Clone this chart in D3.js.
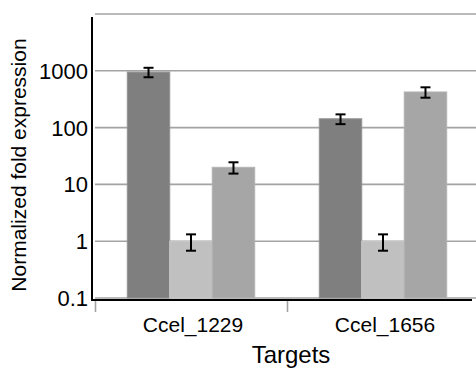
<!DOCTYPE html>
<meta charset="utf-8">
<script src="https://cdn.jsdelivr.net/npm/d3@7"></script>
<style type="text/css">
  body { margin: 0; background: #fff; }
  text { font-family: "Liberation Sans", Arial, Helvetica, sans-serif; fill: #000; }
  .grid line { stroke: #a3a3a3; stroke-width: 1.6; }
  .err { stroke: #000; stroke-width: 2; fill: none; }
</style>
<body>
<script>

// data
var categories = ["Ccel_1229", "Ccel_1656"];
var seriesNames = ["A", "B", "C"];
var seriesColors = ["#7f7f7f", "#c0c0c0", "#a6a6a6"];
var seriesStroke = ["#939393", "#cacaca", "#b3b3b3"];
var valuesA = [950, 143];
var valuesB = [1.0, 1.0];
var valuesC = [20, 424];
var errorsA = [180, 28];
var errorsB = [0.32, 0.32];
var errorsC = [4.5, 88];
var yTicks = [0.1, 1, 10, 100, 1000];
var yTickLabels = ["0.1", "1", "10", "100", "1000"];
var gridValues = [0.1, 1, 10, 100, 1000, 10000];

var width = 476, height = 369;

var allValues = [valuesA, valuesB, valuesC];
var allErrors = [errorsA, errorsB, errorsC];

var rows = [];
categories.forEach(function(c, ci) {
    seriesNames.forEach(function(s, si) {
        rows.push({cat: c, series: s, si: si, value: allValues[si][ci], err: allErrors[si][ci]});
    });
});

var svg = d3.select("body").append("svg")
    .attr("width", width)
    .attr("height", height);

// scales
var yScale = d3.scaleLog()
    .domain([0.1, 10000])
    .range([298, 14]);

var x0 = d3.scaleBand()
    .domain(categories)
    .range([95, 479])
    .padding(0);

var x1 = d3.scaleBand()
    .domain(seriesNames)
    .range([0, x0.bandwidth()])
    .paddingInner(0)
    .paddingOuter(0.76);

// grid lines
svg.append("g")
    .attr("class", "grid")
    .selectAll("line")
    .data(gridValues)
    .enter()
    .append("line")
        .attr("x1", 95)
        .attr("x2", width)
        .attr("y1", d => yScale(d))
        .attr("y2", d => yScale(d));

// bars
var bars = svg.append("g")
    .selectAll("g")
    .data(rows)
    .enter()
    .append("g")
        .attr("transform", d => `translate(${x0(d.cat) + x1(d.series)},0)`);

bars.append("rect")
    .attr("x", 0)
    .attr("width", x1.bandwidth())
    .attr("y", d => yScale(d.value))
    .attr("height", d => yScale(0.1) - yScale(d.value))
    .style("fill", d => seriesColors[d.si])
    .style("stroke", d => seriesStroke[d.si])
    .style("stroke-width", 1);

// error bars
var cap = 5;
var eb = bars.append("g")
    .attr("class", "err")
    .attr("transform", `translate(${x1.bandwidth() / 2},0)`);

eb.append("line")
    .attr("x1", 0).attr("x2", 0)
    .attr("y1", d => yScale(d.value + d.err))
    .attr("y2", d => yScale(d.value - d.err));
eb.append("line")
    .attr("x1", -cap).attr("x2", cap)
    .attr("y1", d => yScale(d.value + d.err))
    .attr("y2", d => yScale(d.value + d.err));
eb.append("line")
    .attr("x1", -cap).attr("x2", cap)
    .attr("y1", d => yScale(d.value - d.err))
    .attr("y2", d => yScale(d.value - d.err));

// x axis tick marks (gray, below the axis line)
svg.append("g")
    .selectAll("line")
    .data(categories)
    .enter()
    .append("line")
        .attr("x1", d => x0(d) + 0.5)
        .attr("x2", d => x0(d) + 0.5)
        .attr("y1", 300)
        .attr("y2", 312)
        .style("stroke", "#a3a3a3")
        .style("stroke-width", 1.6);

// axis lines
svg.append("line")
    .attr("x1", 92).attr("x2", 92)
    .attr("y1", 17).attr("y2", 301)
    .style("stroke", "#000").style("stroke-width", 2);

svg.append("line")
    .attr("x1", 91).attr("x2", 472)
    .attr("y1", 300).attr("y2", 300)
    .style("stroke", "#000").style("stroke-width", 2);

// y tick labels
svg.append("g")
    .selectAll("text")
    .data(yTicks)
    .enter()
    .append("text")
        .attr("x", 88)
        .attr("y", d => yScale(d))
        .attr("dy", "0.36em")
        .style("text-anchor", "end")
        .style("font-size", "22px")
        .text((d, i) => yTickLabels[i]);

// category labels
svg.append("g")
    .selectAll("text")
    .data(categories)
    .enter()
    .append("text")
        .attr("x", d => x0(d) + x0.bandwidth() / 2 + 2)
        .attr("y", 332)
        .style("text-anchor", "middle")
        .style("font-size", "21px")
        .text(d => d);

// axis titles
svg.append("text")
    .attr("x", 291)
    .attr("y", 363)
    .style("text-anchor", "middle")
    .style("font-size", "24px")
    .text("Targets");

svg.append("text")
    .attr("transform", "translate(26,165) rotate(-90)")
    .style("text-anchor", "middle")
    .style("font-size", "21px")
    .text("Normalized fold expression");

</script>
</body>
</html>
